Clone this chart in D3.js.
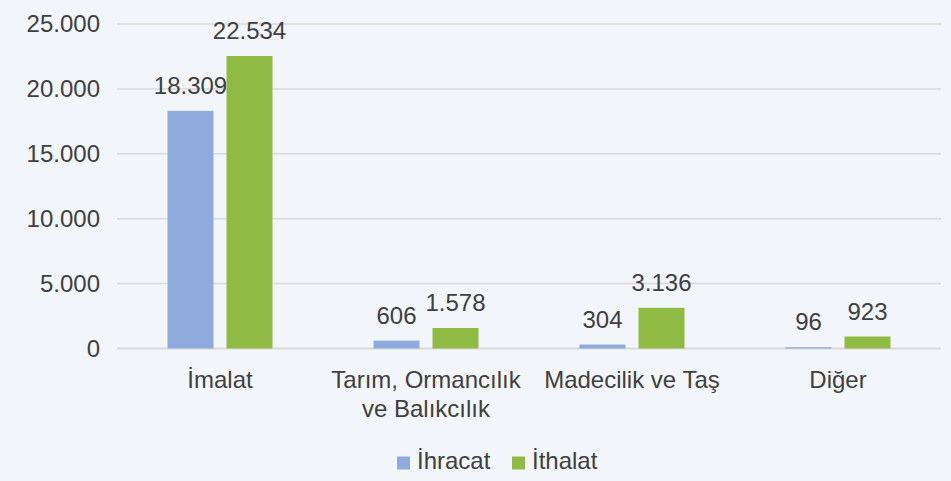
<!DOCTYPE html>
<html><head><meta charset="utf-8">
<script src="https://cdn.jsdelivr.net/npm/d3@7/dist/d3.min.js"></script>
<style>
html,body{margin:0;padding:0;background:#f2f5fa;}
svg{display:block;font-family:"Liberation Sans",Arial,Helvetica,sans-serif;}
</style></head>
<body>
<svg id="chart" width="951" height="481"></svg>
<script>
const categories = [["İmalat"], ["Tarım, Ormancılık", "ve Balıkcılık"], ["Madecilik ve Taş"], ["Diğer"]];
const seriesNames = ["İhracat", "İthalat"];
const ihracat = [18309, 606, 304, 96];
const ithalat = [22534, 1578, 3136, 923];
const yTicks = [0, 5000, 10000, 15000, 20000, 25000];
const colors = ["#8faadc", "#8fbb45"];

(function () {
const svg = d3.select("#chart");
const W = 951, H = 481;
svg.append("rect").attr("width", W).attr("height", H).attr("fill", "#f2f5fa");

const mLeft = 117, mRight = 941, mTop = 24, mBottom = 348.5;
const catKeys = categories.map(c => c.join(" "));
const x0 = d3.scaleBand().domain(catKeys).range([mLeft, mRight]).paddingInner(0).paddingOuter(0);
const x1 = d3.scaleBand().domain(seriesNames).range([0, 105]).paddingInner(13/59).paddingOuter(0);
const y = d3.scaleLinear().domain([0, 25000]).range([mBottom, mTop]);
const fmt = v => d3.format(",")(v).replace(/,/g, ".");

const textColor = "#404040";
const fs = 24;

svg.append("g").selectAll("line").data(yTicks).join("line")
  .attr("x1", mLeft).attr("x2", mRight)
  .attr("y1", d => y(d)).attr("y2", d => y(d))
  .attr("stroke", "#d9d9d9").attr("stroke-width", d => d === 0 ? 2 : 1.5);

const yAxis = svg.append("g").attr("transform", `translate(${mLeft},0)`)
  .call(d3.axisLeft(y).tickValues(yTicks).tickFormat(fmt).tickSize(0).tickPadding(17));
yAxis.select(".domain").remove();
yAxis.selectAll("text").attr("font-size", fs).attr("fill", textColor)
  .attr("font-family", "Liberation Sans, Arial, sans-serif");

const data = catKeys.map((k, i) => ({ key: k, vals: [ihracat[i], ithalat[i]] }));
const groups = svg.append("g").selectAll("g").data(data).join("g")
  .attr("transform", d => `translate(${x0(d.key) + (x0.bandwidth() - 105) / 2},0)`);

groups.selectAll("rect").data(d => d.vals.map((v, j) => ({ v, s: seriesNames[j], j })))
  .join("rect")
  .attr("x", d => x1(d.s)).attr("width", x1.bandwidth())
  .attr("y", d => y(d.v)).attr("height", d => y(0) - y(d.v))
  .attr("fill", d => colors[d.j]);

groups.selectAll("text.lbl").data(d => d.vals.map((v, j) => ({ v, s: seriesNames[j], j })))
  .join("text").attr("class", "lbl")
  .attr("x", d => x1(d.s) + x1.bandwidth() / 2)
  .attr("y", d => y(d.v) - 17)
  .attr("text-anchor", "middle").attr("font-size", fs).attr("fill", textColor)
  .text(d => fmt(d.v));

const cat = svg.append("g").selectAll("text").data(categories).join("text")
  .attr("x", (d, i) => x0(catKeys[i]) + x0.bandwidth() / 2)
  .attr("y", 388)
  .attr("text-anchor", "middle").attr("font-size", fs).attr("fill", textColor);
cat.selectAll("tspan").data(d => d).join("tspan")
  .attr("x", function() { return this.parentNode.getAttribute("x"); })
  .attr("dy", (d, i) => i === 0 ? 0 : 29)
  .text(d => d);

const legend = svg.append("g").attr("transform", "translate(397,469)");
const legX = [0, 115];
seriesNames.forEach((s, i) => {
  const g = legend.append("g").attr("transform", `translate(${legX[i]},0)`);
  g.append("rect").attr("x", 0).attr("y", -12.5).attr("width", 13).attr("height", 13).attr("fill", colors[i]);
  g.append("text").attr("x", 20).attr("y", 0).attr("font-size", fs).attr("fill", textColor).text(s);
});
})();
</script>
</body></html>
